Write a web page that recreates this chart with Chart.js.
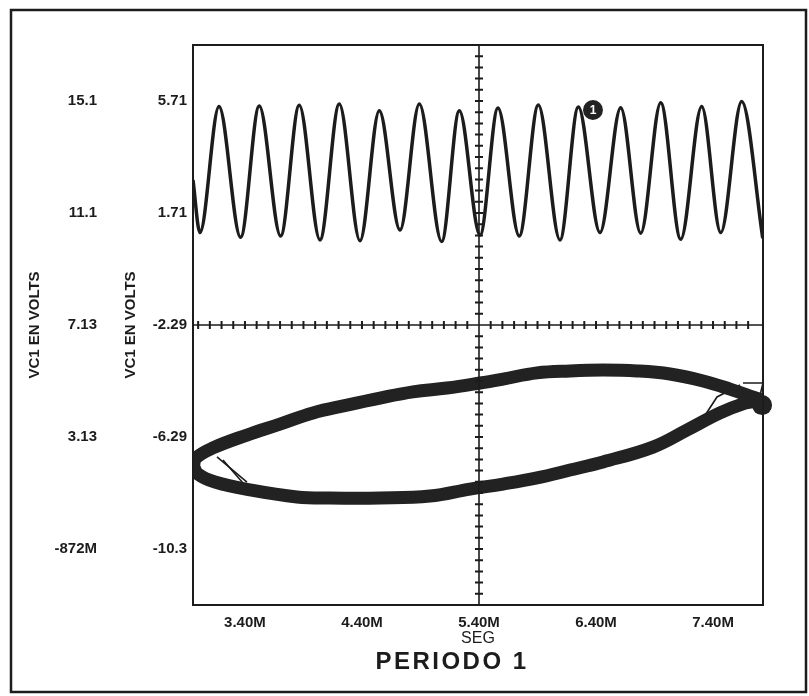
<!DOCTYPE html>
<html><head><meta charset="utf-8">
<script src="https://cdn.jsdelivr.net/npm/chart.js@4.4.1/dist/chart.umd.min.js"></script>
<style>html,body{margin:0;padding:0;background:#fff;}#wrap{width:809px;height:696px;}</style>
</head><body><div id="wrap"><canvas id="c" width="809" height="696"></canvas></div>
<script>
// ---- tick labels ----
const xTickValues = [3.40, 4.40, 5.40, 6.40, 7.40];
const xTickLabels = ['3.40M', '4.40M', '5.40M', '6.40M', '7.40M'];
const yTickValues = [5.71, 1.71, -2.29, -6.29, -10.29];
const yTickLabels = ['5.71', '1.71', '-2.29', '-6.29', '-10.3'];
const y2TickLabels = ['15.1', '11.1', '7.13', '3.13', '-872M'];
const y2Offset = 9.418;
const crossX = 5.40, crossY = -2.29;

// ---- series: VC1 vs time (peaks / troughs) ----
const sineT = [2.956, 3.015, 3.178, 3.363, 3.522, 3.705, 3.864, 4.041, 4.206, 4.383, 4.548, 4.725, 4.890, 5.081, 5.232, 5.409, 5.562, 5.744, 5.907, 6.092, 6.249, 6.434, 6.611, 6.782, 6.953, 7.124, 7.303, 7.466, 7.645, 7.825];
const sineV = [2.89, 1.01, 5.51, 0.84, 5.53, 0.89, 5.56, 0.75, 5.60, 0.72, 5.36, 1.10, 5.60, 0.69, 5.36, 0.92, 5.46, 0.89, 5.57, 0.75, 5.50, 1.01, 5.47, 0.99, 5.65, 0.77, 5.51, 1.01, 5.69, 0.81];

// ---- series: closed loop (phase trajectory) ----
const loopX = [2.960, 2.981, 3.126, 3.417, 3.699, 3.981, 4.272, 4.554, 4.836, 5.126, 5.409, 5.605, 5.896, 6.178, 6.460, 6.750, 7.032, 7.315, 7.545, 7.716, 7.802, 7.674, 7.460, 7.178, 6.887, 6.460, 6.178, 5.896, 5.605, 5.323, 4.981, 4.554, 4.126, 3.844, 3.443, 3.144, 2.998, 2.960];
const loopV = [-7.33, -7.04, -6.68, -6.22, -5.83, -5.43, -5.15, -4.90, -4.68, -4.54, -4.36, -4.22, -4.00, -3.93, -3.90, -3.93, -4.04, -4.29, -4.58, -4.83, -4.97, -5.08, -5.43, -6.04, -6.65, -7.18, -7.47, -7.75, -7.97, -8.15, -8.40, -8.47, -8.47, -8.43, -8.18, -7.90, -7.61, -7.33];

// stray trajectory strands near the tips
const strayAX = [3.161, 3.417], strayAV = [-7.00, -7.90];
const strayBX = [3.212, 3.383], strayBV = [-7.11, -7.93];
const strayCX = [7.289, 7.434, 7.631], strayCV = [-5.79, -4.86, -4.43];
const strayDX = [7.656, 7.827, 7.802], strayDV = [-4.36, -4.36, -4.79];

// markers
const markerX = [6.374, 7.819], markerV = [5.39, -5.15];
const markerText = ['1', ''];

const pts = (xs, ys) => xs.map((v, i) => ({x: v, y: ys[i]}));
const FAM = "'Liberation Sans Narrow', 'Arial Narrow', 'Liberation Sans', Arial, sans-serif";
const INK = '#1c1c1c';

const decor = {
  id: 'decor',
  afterDatasetsDraw(chart) {
    const {ctx, chartArea: a, scales: {x, y}} = chart;
    const cx = x.getPixelForValue(crossX), cy = y.getPixelForValue(crossY);
    ctx.save();
    ctx.strokeStyle = INK; ctx.lineWidth = 1.6;
    ctx.beginPath();
    ctx.moveTo(cx, a.top); ctx.lineTo(cx, a.bottom);
    ctx.moveTo(a.left, cy); ctx.lineTo(a.right, cy);
    ctx.stroke();
    ctx.lineWidth = 2;
    ctx.beginPath();
    for (let k = -30; k <= 30; k++) {
      const v = crossX + k * 0.1;
      if (k === 0 || v <= x.min + 0.03 || v >= x.max - 0.03) continue;
      const px = x.getPixelForValue(v);
      ctx.moveTo(px, cy - 4); ctx.lineTo(px, cy + 4);
    }
    for (let k = -30; k <= 30; k++) {
      const v = crossY + k * 0.4;
      if (k === 0 || v <= y.min + 0.1 || v >= y.max - 0.1) continue;
      const py = y.getPixelForValue(v);
      ctx.moveTo(cx - 4, py); ctx.lineTo(cx + 4, py);
    }
    ctx.stroke();
    // marker label
    ctx.fillStyle = '#fff';
    ctx.font = "bold 12px 'Liberation Sans', Arial, sans-serif";
    ctx.textAlign = 'center'; ctx.textBaseline = 'middle';
    markerX.forEach((mx, i) => {
      if (markerText[i]) ctx.fillText(markerText[i], x.getPixelForValue(mx), y.getPixelForValue(markerV[i]) + 0.5);
    });
    // plot border
    ctx.strokeStyle = INK; ctx.lineWidth = 2;
    ctx.strokeRect(a.left, a.top, a.right - a.left, a.bottom - a.top);
    // outer frame
    ctx.lineWidth = 2.5;
    ctx.strokeRect(11, 10, 795, 682);
    // caption
    ctx.fillStyle = INK;
    ctx.font = "bold 24px 'Liberation Sans', Arial, sans-serif";
    try { ctx.letterSpacing = '2.5px'; } catch (e) {}
    ctx.textAlign = 'center'; ctx.textBaseline = 'middle';
    ctx.fillText('PERIODO 1', 452, 662);
    ctx.restore();
  }
};

const tickFont = {family: FAM, size: 15, weight: 'bold'};

new Chart(document.getElementById('c'), {
  type: 'scatter',
  data: {
    datasets: [
      {data: pts(sineT, sineV), showLine: true, borderColor: INK, borderWidth: 3.5, pointRadius: 0, cubicInterpolationMode: 'monotone', xAxisID: 'x', yAxisID: 'y'},
      {data: pts(loopX, loopV), showLine: true, borderColor: '#222', borderWidth: 13, tension: 0.4, borderJoinStyle: 'round', borderCapStyle: 'round', pointRadius: 0, xAxisID: 'x', yAxisID: 'y'},
      {data: pts(strayAX, strayAV), showLine: true, borderColor: INK, borderWidth: 1.6, pointRadius: 0, xAxisID: 'x', yAxisID: 'y'},
      {data: pts(strayBX, strayBV), showLine: true, borderColor: INK, borderWidth: 1.6, pointRadius: 0, xAxisID: 'x', yAxisID: 'y'},
      {data: pts(strayCX, strayCV), showLine: true, borderColor: INK, borderWidth: 1.6, pointRadius: 0, xAxisID: 'x', yAxisID: 'y'},
      {data: pts(strayDX, strayDV), showLine: true, borderColor: INK, borderWidth: 1.6, pointRadius: 0, xAxisID: 'x', yAxisID: 'y'},
      {data: pts(markerX, markerV), showLine: false, pointRadius: 10, pointBackgroundColor: '#222', pointBorderColor: '#222', borderWidth: 0, xAxisID: 'x', yAxisID: 'y', clip: false}
    ]
  },
  options: {
    responsive: false, animation: false, devicePixelRatio: 1,
    layout: {padding: {top: 45, right: 46, left: 0, bottom: 0}},
    plugins: {legend: {display: false}, tooltip: {enabled: false}},
    scales: {
      x: {
        type: 'linear', position: 'bottom', min: 2.956, max: 7.827,
        grid: {display: false, drawTicks: false}, border: {display: false},
        afterBuildTicks: s => { s.ticks = xTickValues.map(v => ({value: v})); },
        afterFit: s => { s.height = 91; },
        ticks: {autoSkip: false, maxRotation: 0, padding: 9, color: INK, font: tickFont, callback: (v, i) => xTickLabels[i]},
        title: {display: true, text: 'SEG', color: INK, font: {family: FAM, size: 16}, padding: {top: 0, bottom: 48}}
      },
      y: {
        type: 'linear', position: 'left', weight: 0, min: -12.29, max: 7.71,
        grid: {display: false, drawTicks: false}, border: {display: false},
        afterBuildTicks: s => { s.ticks = yTickValues.map(v => ({value: v})); },
        afterFit: s => { s.width = 93; },
        ticks: {autoSkip: false, padding: 6, color: INK, font: tickFont, callback: (v, i) => yTickLabels[i]},
        title: {display: true, text: 'VC1 EN VOLTS', color: INK, font: {family: FAM, size: 15, weight: 'bold'}, padding: {top: 22, bottom: 0}}
      },
      y2: {
        type: 'linear', position: 'left', weight: 10, min: -12.29 + y2Offset, max: 7.71 + y2Offset,
        grid: {display: false, drawTicks: false}, border: {display: false},
        afterBuildTicks: s => { s.ticks = yTickValues.map(v => ({value: v + y2Offset})); },
        afterFit: s => { s.width = 100; },
        ticks: {autoSkip: false, padding: 3, color: INK, font: tickFont, callback: (v, i) => y2TickLabels[i]},
        title: {display: true, text: 'VC1 EN VOLTS', color: INK, font: {family: FAM, size: 15, weight: 'bold'}, padding: {top: 26, bottom: 0}}
      }
    }
  },
  plugins: [decor]
});
</script></body></html>
